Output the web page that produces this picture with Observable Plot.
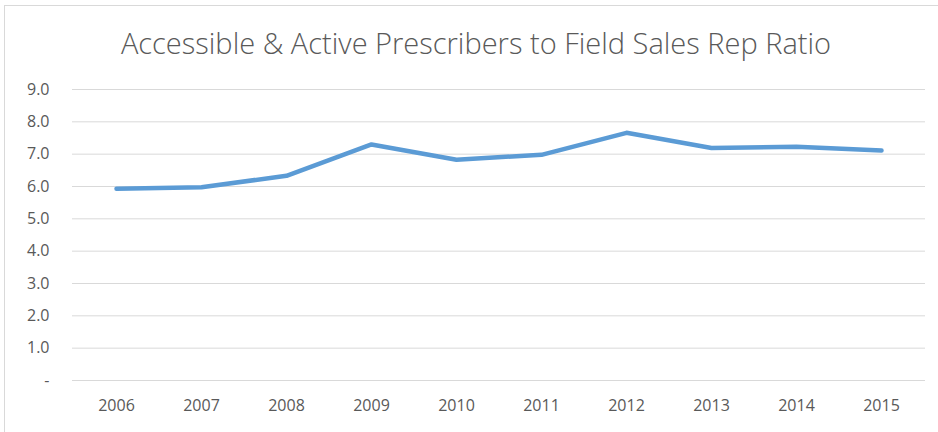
<!DOCTYPE html>
<html>
<head>
<meta charset="utf-8">
<script src="https://cdn.jsdelivr.net/npm/d3@7"></script>
<script src="https://cdn.jsdelivr.net/npm/@observablehq/plot@0.6"></script>
<style>
  html, body { margin: 0; padding: 0; background: #fff; }
  #wrap { position: relative; width: 938px; height: 432px; overflow: hidden; background: #fff; }
  #frame { position: absolute; left: 4px; top: 5px; right: -10px; bottom: -10px;
           border-top: 1px solid #d9d9d9; border-left: 1px solid #d9d9d9; }
  #title { position: absolute; left: 0; top: 27.5px; width: 952px; text-align: center;
           font-family: "Open Sans", sans-serif; font-weight: 300; font-size: 29px; line-height: 29px;
           color: #595959; white-space: nowrap; }
  #chart { position: absolute; left: 0; top: 70px; }
</style>
</head>
<body>
<div id="wrap">
  <div id="frame"></div>
  <div id="title">Accessible &amp; Active Prescribers to Field Sales Rep Ratio</div>
  <div id="chart"></div>
</div>
<script>
const years = ["2006","2007","2008","2009","2010","2011","2012","2013","2014","2015"];
const ratio = [5.93, 5.98, 6.33, 7.30, 6.83, 6.98, 7.66, 7.19, 7.23, 7.11];
const yTicks = [0,1,2,3,4,5,6,7,8,9];

const data = years.map((y, i) => ({year: y, value: ratio[i]}));

const plot = Plot.plot({
  width: 938,
  height: 362,
  marginLeft: 72,
  marginRight: 13,
  marginTop: 19,
  marginBottom: 52,
  style: {fontFamily: "Open Sans, sans-serif", fontSize: "16px", color: "#595959", background: "transparent"},
  x: {type: "point", domain: years, padding: 0.5, label: null, tickSize: 0, tickPadding: 19},
  y: {domain: [0, 9], ticks: yTicks, label: null, tickSize: 0, tickPadding: 23,
      tickFormat: d => d === 0 ? "-" : d3.format(".1f")(d)},
  marks: [
    Plot.ruleY(yTicks, {stroke: "#d9d9d9", strokeWidth: 1}),
    Plot.line(data, {x: "year", y: "value", stroke: "#5b9bd5", strokeWidth: 4.5, strokeLinejoin: "round", strokeLinecap: "round"})
  ]
});
document.getElementById("chart").appendChild(plot);
</script>
</body>
</html>
